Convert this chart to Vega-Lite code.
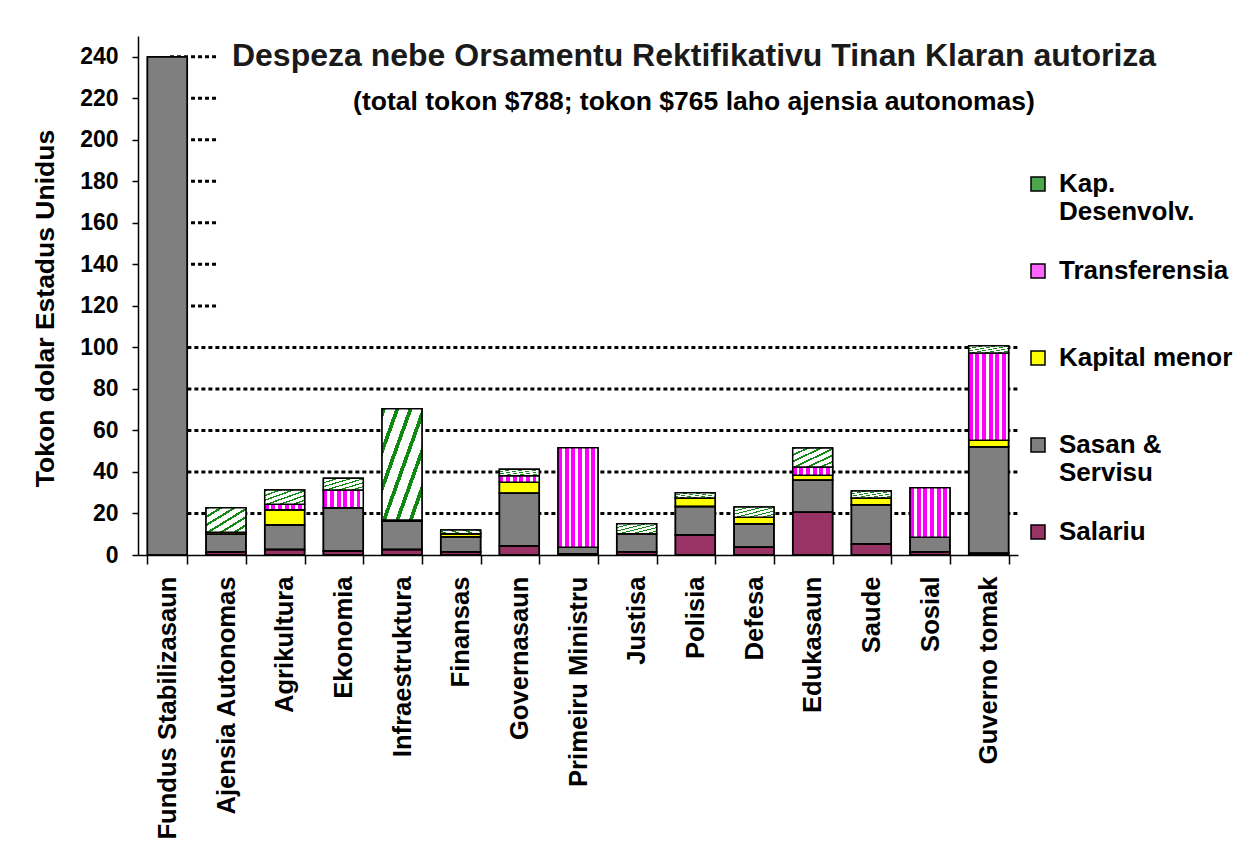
{
  "$schema": "https://vega.github.io/schema/vega-lite/v6.json",
  "width": 880,
  "height": 519,
  "autosize": "none",
  "padding": {"left": 138, "top": 36, "right": 231, "bottom": 295},
  "background": "white",
  "config": {"view": {"stroke": null}, "font": "Liberation Sans"},
  "title": {
    "text": "Despeza nebe Orsamentu Rektifikativu Tinan Klaran autoriza",
    "subtitle": "(total tokon $788; tokon $765 laho ajensia autonomas)",
    "anchor": "middle",
    "frame": "group",
    "dx": 116,
    "dy": 84,
    "font": "Liberation Sans",
    "fontSize": 32,
    "fontWeight": "bold",
    "color": "#1a1a1a",
    "subtitleFont": "Liberation Sans",
    "subtitleFontSize": 26.5,
    "subtitleFontWeight": "bold",
    "subtitleColor": "black",
    "subtitlePadding": 16
  },
  "datasets": {
    "spend": [
      {"agency": "Fundus Stabilizasaun", "type": "Sasan & Servisu", "value": 240},
      {"agency": "Ajensia Autonomas", "type": "Salariu", "value": 1.5},
      {"agency": "Ajensia Autonomas", "type": "Sasan & Servisu", "value": 8.5},
      {"agency": "Ajensia Autonomas", "type": "Kapital menor", "value": 1.0},
      {"agency": "Ajensia Autonomas", "type": "Kap. Desenvolv.", "value": 11.8},
      {"agency": "Agrikultura", "type": "Salariu", "value": 2.7},
      {"agency": "Agrikultura", "type": "Sasan & Servisu", "value": 11.8},
      {"agency": "Agrikultura", "type": "Kapital menor", "value": 7.3},
      {"agency": "Agrikultura", "type": "Transferensia", "value": 2.6},
      {"agency": "Agrikultura", "type": "Kap. Desenvolv.", "value": 6.9},
      {"agency": "Ekonomia", "type": "Salariu", "value": 1.9},
      {"agency": "Ekonomia", "type": "Sasan & Servisu", "value": 20.9},
      {"agency": "Ekonomia", "type": "Transferensia", "value": 8.5},
      {"agency": "Ekonomia", "type": "Kap. Desenvolv.", "value": 5.7},
      {"agency": "Infraestruktura", "type": "Salariu", "value": 2.7},
      {"agency": "Infraestruktura", "type": "Sasan & Servisu", "value": 13.7},
      {"agency": "Infraestruktura", "type": "Kapital menor", "value": 0.5},
      {"agency": "Infraestruktura", "type": "Kap. Desenvolv.", "value": 53.6},
      {"agency": "Finansas", "type": "Salariu", "value": 1.6},
      {"agency": "Finansas", "type": "Sasan & Servisu", "value": 7.2},
      {"agency": "Finansas", "type": "Kapital menor", "value": 1.4},
      {"agency": "Finansas", "type": "Kap. Desenvolv.", "value": 1.8},
      {"agency": "Governasaun", "type": "Salariu", "value": 4.3},
      {"agency": "Governasaun", "type": "Sasan & Servisu", "value": 25.4},
      {"agency": "Governasaun", "type": "Kapital menor", "value": 5.3},
      {"agency": "Governasaun", "type": "Transferensia", "value": 3.2},
      {"agency": "Governasaun", "type": "Kap. Desenvolv.", "value": 3.1},
      {"agency": "Primeiru Ministru", "type": "Salariu", "value": 0.5},
      {"agency": "Primeiru Ministru", "type": "Sasan & Servisu", "value": 3.2},
      {"agency": "Primeiru Ministru", "type": "Transferensia", "value": 48.0},
      {"agency": "Justisa", "type": "Salariu", "value": 1.6},
      {"agency": "Justisa", "type": "Sasan & Servisu", "value": 8.6},
      {"agency": "Justisa", "type": "Kap. Desenvolv.", "value": 4.8},
      {"agency": "Polisia", "type": "Salariu", "value": 9.7},
      {"agency": "Polisia", "type": "Sasan & Servisu", "value": 13.7},
      {"agency": "Polisia", "type": "Kapital menor", "value": 4.0},
      {"agency": "Polisia", "type": "Kap. Desenvolv.", "value": 2.6},
      {"agency": "Defesa", "type": "Salariu", "value": 3.7},
      {"agency": "Defesa", "type": "Sasan & Servisu", "value": 11.3},
      {"agency": "Defesa", "type": "Kapital menor", "value": 3.2},
      {"agency": "Defesa", "type": "Kap. Desenvolv.", "value": 4.9},
      {"agency": "Edukasaun", "type": "Salariu", "value": 20.6},
      {"agency": "Edukasaun", "type": "Sasan & Servisu", "value": 15.4},
      {"agency": "Edukasaun", "type": "Kapital menor", "value": 2.4},
      {"agency": "Edukasaun", "type": "Transferensia", "value": 4.0},
      {"agency": "Edukasaun", "type": "Kap. Desenvolv.", "value": 9.2},
      {"agency": "Saude", "type": "Salariu", "value": 5.3},
      {"agency": "Saude", "type": "Sasan & Servisu", "value": 18.9},
      {"agency": "Saude", "type": "Kapital menor", "value": 3.2},
      {"agency": "Saude", "type": "Kap. Desenvolv.", "value": 3.4},
      {"agency": "Sosial", "type": "Salariu", "value": 1.6},
      {"agency": "Sosial", "type": "Sasan & Servisu", "value": 6.9},
      {"agency": "Sosial", "type": "Transferensia", "value": 23.9},
      {"agency": "Guverno tomak", "type": "Salariu", "value": 0.8},
      {"agency": "Guverno tomak", "type": "Sasan & Servisu", "value": 51.3},
      {"agency": "Guverno tomak", "type": "Kapital menor", "value": 3.2},
      {"agency": "Guverno tomak", "type": "Transferensia", "value": 42.0},
      {"agency": "Guverno tomak", "type": "Kap. Desenvolv.", "value": 3.5}
    ],
    "grid": [{"level": 20}, {"level": 40}, {"level": 60}, {"level": 80}, {"level": 100}],
    "shortgrid": [{"level": 120}, {"level": 140}, {"level": 160}, {"level": 180}, {"level": 200}, {"level": 220}, {"level": 240}]
  },
  "layer": [
    {
      "data": {"name": "grid"},
      "mark": {"type": "rule", "stroke": "black", "strokeWidth": 3, "strokeDash": [4, 3]},
      "encoding": {
        "y": {"field": "level", "type": "quantitative"},
        "x": {"datum": "Guverno tomak", "type": "nominal", "bandPosition": 1.22},
        "x2": {"datum": "Fundus Stabilizasaun"}
      }
    },
    {
      "data": {"name": "shortgrid"},
      "mark": {"type": "rule", "stroke": "black", "strokeWidth": 3, "strokeDash": [4, 3]},
      "encoding": {
        "y": {"field": "level", "type": "quantitative"},
        "x": {"datum": "Ajensia Autonomas", "type": "nominal", "bandPosition": 0.25},
        "x2": {"datum": "Fundus Stabilizasaun"}
      }
    },
    {
      "data": {"name": "spend"},
      "mark": {"type": "bar", "stroke": "black", "strokeWidth": 1.5},
      "encoding": {
        "x": {
          "field": "agency",
          "type": "nominal",
          "sort": null,
          "scale": {
            "domain": ["Fundus Stabilizasaun", "Ajensia Autonomas", "Agrikultura", "Ekonomia", "Infraestruktura", "Finansas", "Governasaun", "Primeiru Ministru", "Justisa", "Polisia", "Defesa", "Edukasaun", "Saude", "Sosial", "Guverno tomak"],
            "paddingInner": 0.32,
            "paddingOuter": 0.16
          },
          "axis": {
            "title": null,
            "labelAngle": -90,
            "labelAlign": "right",
            "labelBaseline": "middle",
            "labelFont": "Liberation Sans",
            "labelFontSize": 25.6,
            "labelFontWeight": "bold",
            "labelColor": "black",
            "labelPadding": 12,
            "labelLimit": 400,
            "labelOverlap": false,
            "tickBand": "extent",
            "tickSize": 9,
            "tickColor": "black",
            "tickWidth": 1.5,
            "domainColor": "black",
            "domainWidth": 1.5,
            "grid": false
          }
        },
        "y": {
          "field": "value",
          "type": "quantitative",
          "stack": "zero",
          "scale": {"domain": [0, 250], "nice": false},
          "axis": {
            "values": [0, 20, 40, 60, 80, 100, 120, 140, 160, 180, 200, 220, 240],
            "title": "Tokon dolar Estadus Unidus",
            "titleFont": "Liberation Sans",
            "titleFontSize": 26.5,
            "titleFontWeight": "bold",
            "titleColor": "black",
            "titleX": -93,
            "titleY": 272,
            "titleAngle": 270,
            "titleAlign": "center",
            "titleBaseline": "middle",
            "labelFont": "Liberation Sans",
            "labelFontSize": 23,
            "labelFontWeight": "bold",
            "labelColor": "black",
            "labelPadding": 14,
            "tickSize": 6,
            "tickColor": "black",
            "tickWidth": 1.5,
            "domainColor": "black",
            "domainWidth": 1.5,
            "grid": false
          }
        },
        "order": {"field": "agency"},
        "color": {
          "field": "type",
          "type": "nominal",
          "sort": ["Kap. Desenvolv.", "Transferensia", "Kapital menor", "Sasan & Servisu", "Salariu"],
          "scale": {
            "domain": ["Kap. Desenvolv.", "Transferensia", "Kapital menor", "Sasan & Servisu", "Salariu"],
            "range": ["#4aa84a", "#ff66ff", "#ffff00", "#7f7f7f", "#993366"]
          },
          "legend": {
            "orient": "none",
            "legendX": 887,
            "legendY": 135,
            "title": null,
            "padding": 0,
            "symbolType": "square",
            "symbolSize": 196,
            "symbolStrokeColor": "black",
            "symbolStrokeWidth": 1.5,
            "symbolOpacity": 1,
            "labelFont": "Liberation Sans",
            "labelFontSize": 26,
            "labelFontWeight": "bold",
            "labelColor": "black",
            "labelOffset": 8,
            "labelLimit": 300,
            "rowPadding": 5,
            "labelExpr": "datum.label == 'Kap. Desenvolv.' ? ['Kap.', 'Desenvolv.', ''] : datum.label == 'Sasan & Servisu' ? ['Sasan &', 'Servisu', ''] : [datum.label, '', '']"
          }
        }
      }
    },
    {
      "data": {"name": "spend"},
      "mark": {"type": "bar", "stroke": "black", "strokeWidth": 1.5},
      "encoding": {
        "x": {"field": "agency", "type": "nominal", "sort": null},
        "y": {"field": "value", "type": "quantitative", "stack": "zero"},
        "order": {"field": "agency"},
        "detail": {"field": "type", "type": "nominal"},
        "fill": {
          "condition": [
            {"test": "datum.type === 'Kap. Desenvolv.'", "value": {"gradient": "linear", "x1": 0, "y1": 0, "x2": 1, "y2": 1, "stops": [
                {"offset": 0, "color": "#118811"}, {"offset": 0.05, "color": "#118811"}, {"offset": 0.05, "color": "#ffffff"}, {"offset": 0.1667, "color": "#ffffff"},
                {"offset": 0.1667, "color": "#118811"}, {"offset": 0.2167, "color": "#118811"}, {"offset": 0.2167, "color": "#ffffff"}, {"offset": 0.3333, "color": "#ffffff"},
                {"offset": 0.3333, "color": "#118811"}, {"offset": 0.3833, "color": "#118811"}, {"offset": 0.3833, "color": "#ffffff"}, {"offset": 0.5, "color": "#ffffff"},
                {"offset": 0.5, "color": "#118811"}, {"offset": 0.55, "color": "#118811"}, {"offset": 0.55, "color": "#ffffff"}, {"offset": 0.6667, "color": "#ffffff"},
                {"offset": 0.6667, "color": "#118811"}, {"offset": 0.7167, "color": "#118811"}, {"offset": 0.7167, "color": "#ffffff"}, {"offset": 0.8333, "color": "#ffffff"},
                {"offset": 0.8333, "color": "#118811"}, {"offset": 0.8833, "color": "#118811"}, {"offset": 0.8833, "color": "#ffffff"}, {"offset": 1, "color": "#ffffff"}
              ]}},
            {"test": "datum.type === 'Transferensia'", "value": {"gradient": "linear", "x1": 0, "y1": 0, "x2": 1, "y2": 0, "stops": [
                {"offset": 0, "color": "#ff00ff"}, {"offset": 0.0967, "color": "#ff00ff"}, {"offset": 0.0967, "color": "#ffffff"}, {"offset": 0.1667, "color": "#ffffff"},
                {"offset": 0.1667, "color": "#ff00ff"}, {"offset": 0.2633, "color": "#ff00ff"}, {"offset": 0.2633, "color": "#ffffff"}, {"offset": 0.3333, "color": "#ffffff"},
                {"offset": 0.3333, "color": "#ff00ff"}, {"offset": 0.43, "color": "#ff00ff"}, {"offset": 0.43, "color": "#ffffff"}, {"offset": 0.5, "color": "#ffffff"},
                {"offset": 0.5, "color": "#ff00ff"}, {"offset": 0.5967, "color": "#ff00ff"}, {"offset": 0.5967, "color": "#ffffff"}, {"offset": 0.6667, "color": "#ffffff"},
                {"offset": 0.6667, "color": "#ff00ff"}, {"offset": 0.7633, "color": "#ff00ff"}, {"offset": 0.7633, "color": "#ffffff"}, {"offset": 0.8333, "color": "#ffffff"},
                {"offset": 0.8333, "color": "#ff00ff"}, {"offset": 0.93, "color": "#ff00ff"}, {"offset": 0.93, "color": "#ffffff"}, {"offset": 1, "color": "#ffffff"}
              ]}}
          ],
          "value": "transparent"
        }
      }
    }
  ]
}
